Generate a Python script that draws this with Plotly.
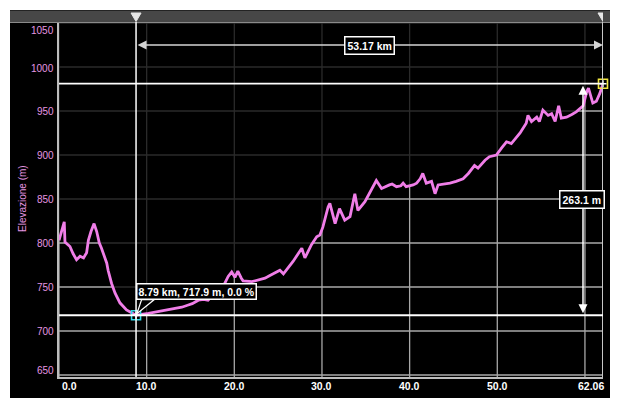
import plotly.graph_objects as go

# ---------------- data ----------------
dist_km = [0.0, 0.3, 0.6, 0.68, 1.0, 1.25, 1.6, 2.0, 2.4, 2.8, 3.15, 3.35, 3.65, 4.0, 4.3,
           4.6, 4.85, 5.2, 5.45, 5.6, 6.0, 6.4, 6.95, 7.7, 8.5, 8.79, 10.2, 11.7, 12.5, 13.2,
           14.0, 14.75, 15.2, 15.9, 16.5, 17.0, 17.4, 18.0, 18.55, 19.3, 19.7, 20.07, 20.4,
           20.8, 21.0, 22.0, 22.9, 23.5, 24.06,
           25.2, 25.6, 26.7, 27.7, 28.05, 28.8, 29.4, 29.76, 30.1, 30.7, 30.9, 31.5, 32.0,
           32.6, 33.2, 33.75, 34.1, 34.9, 35.65, 36.2, 36.8, 37.2, 37.7, 38.0, 38.5, 39.0,
           39.26, 39.6, 40.0, 40.4, 40.8,
           41.2, 41.5, 41.9, 42.5, 42.9, 43.25, 44.0, 44.6, 45.3, 46.1, 46.7, 47.4, 47.8,
           48.6, 49.1, 49.9, 50.5, 51.05, 51.6, 52.6, 53.3, 53.5, 53.9, 54.5, 54.8, 55.2,
           55.8, 56.2, 56.6, 57.0, 57.3, 57.9, 58.5, 59.0, 59.8, 60.2, 60.4, 60.9, 61.3,
           61.7, 62.0, 62.06]
elev_m = [803, 815, 824, 801, 798, 796, 788, 781, 785, 783, 789, 803, 813, 822, 813,
          800, 794, 785, 777, 769, 754, 743, 732, 724, 719, 717.9, 720, 723, 724, 726,
          727, 729.5, 731, 735, 736, 735, 739, 741, 747, 762, 767, 761, 768,
          760, 757, 756, 758, 760, 763,
          769, 765, 779, 794, 783, 798, 807, 809, 818, 841, 845, 822, 839,
          826, 830, 856, 837, 847, 860, 871, 862, 864, 866, 867, 864, 865,
          868, 864, 865, 866, 868,
          873, 879, 868, 870, 856, 866, 867, 868, 870, 873, 879, 888, 885,
          894, 898, 900, 908, 915, 913, 925, 936, 945, 938, 943, 938, 951,
          945, 947, 938, 956, 942, 943, 946, 949, 956, 972, 976, 959, 961,
          970, 979, 981]

x_tick_vals = [0, 10, 20, 30, 40, 50, 60]
x_tick_text = ["0.0", "10.0", "20.0", "30.0", "40.0", "50.0", ""]
x_end_value = 62.06
x_end_text = "62.06"
y_tick_vals = [650, 700, 750, 800, 850, 900, 950, 1000, 1050]
y_tick_text = ["650", "700", "750", "800", "850", "900", "950", "1000", "1050"]

sel_start_km, sel_start_elev = 8.79, 717.9
sel_end_km, sel_end_elev = 62.06, 981.0
dist_label = "53.17 km"
climb_label = "263.1 m"
tooltip_label = "8.79 km, 717.9 m, 0.0 %"
y_title = "Elevazione (m)"
x_title = "Distanza (km)"

# ---------------- layout geometry ----------------
W, H = 620, 409
PL, PR, PT, PB = 59, 603, 23, 377
X0, X1 = 0.0, 62.06
Y0, Y1 = 647.7, 1050.0
kx = (PR - PL) / (X1 - X0)
ky = (PB - PT) / (Y1 - Y0)


def pxx(p):  # pixel x -> paper x
    return (p - PL) / (PR - PL)


def pxy(p):  # pixel y -> paper y
    return (PB - p) / (PB - PT)


PINK_LINE = "#f07ee8"
PINK_TEXT = "#e596e0"
GRID = "#a8a8a8"
FONT = "Liberation Sans, Arial, sans-serif"

fig = go.Figure()

# grid lines drawn as traces so the dimming layer can sit above them
for g in x_tick_vals:
    fig.add_trace(go.Scatter(x=[g, g], y=[Y0, Y1], mode="lines",
                             line=dict(color=GRID, width=1.3),
                             hoverinfo="skip", showlegend=False))
for g in y_tick_vals:
    fig.add_trace(go.Scatter(x=[X0, X1], y=[g, g], mode="lines",
                             line=dict(color=GRID, width=1.3),
                             hoverinfo="skip", showlegend=False))
# dimming of the grid above the profile
fig.add_trace(go.Scatter(x=dist_km + [dist_km[-1], dist_km[0]],
                         y=elev_m + [Y1, Y1], mode="lines", line=dict(width=0),
                         fill="toself", fillcolor="rgba(0,0,0,0.75)",
                         hoverinfo="skip", showlegend=False))
# profile
fig.add_trace(go.Scatter(x=dist_km, y=elev_m, mode="lines",
                         line=dict(color=PINK_LINE, width=2.8),
                         hoverinfo="skip", showlegend=False))

shapes = []
# white frame around the black panel
for (a, b, c, d) in [(-5, -5, 10, H + 5), (610, -5, W + 5, H + 5),
                     (-5, -5, W + 5, 10), (-5, 398, W + 5, H + 5)]:
    shapes.append(dict(type="rect", xref="paper", yref="paper", x0=pxx(a), x1=pxx(c),
                       y0=pxy(b), y1=pxy(d), fillcolor="white", line=dict(width=0),
                       layer="above"))
# top gray bar
shapes.append(dict(type="rect", xref="paper", yref="paper", x0=pxx(10), x1=pxx(610),
                   y0=pxy(22), y1=pxy(10.5), fillcolor="#474747", line=dict(width=0),
                   layer="above"))
shapes.append(dict(type="line", xref="paper", yref="paper", x0=pxx(10), x1=pxx(610),
                   y0=pxy(22.5), y1=pxy(22.5), line=dict(color="#8a8a8a", width=1.2),
                   layer="above"))
# selection lines
shapes.append(dict(type="line", xref="x", yref="paper", x0=sel_start_km, x1=sel_start_km,
                   y0=0, y1=pxy(22), line=dict(color="white", width=1.5), layer="above"))
shapes.append(dict(type="line", xref="x", yref="paper", x0=sel_end_km, x1=sel_end_km,
                   y0=0, y1=pxy(22), line=dict(color="#c8c8c8", width=2), layer="above"))
shapes.append(dict(type="line", xref="x", yref="y", x0=X0, x1=X1,
                   y0=sel_start_elev, y1=sel_start_elev, line=dict(color="white", width=1.8),
                   layer="above"))
shapes.append(dict(type="line", xref="x", yref="y", x0=X0, x1=X1,
                   y0=sel_end_elev, y1=sel_end_elev, line=dict(color="white", width=1.8),
                   layer="above"))
# triangles in top bar
for xv in (sel_start_km, sel_end_km):
    hw = 5 / kx
    path = (f"M {xv - hw},{pxy(13)} L {xv + hw},{pxy(13)} L {xv},{pxy(21.5)} Z")
    shapes.append(dict(type="path", xref="x", yref="paper", path=path,
                       fillcolor="#e6e6e6", line=dict(color="#e6e6e6", width=1),
                       layer="above"))
# tooltip tail
tx = lambda dpx: sel_start_km + dpx / kx
ty = lambda dpy: sel_start_elev - dpy / ky
tail = (f"M {tx(5.5)},{ty(-15.5)} L {tx(0.8)},{ty(-1.5)} L {tx(18)},{ty(-15.5)} Z")
shapes.append(dict(type="path", xref="x", yref="y", path=tail, fillcolor="black",
                   line=dict(color="white", width=1.2), layer="above"))

# markers at selection ends
fig.add_trace(go.Scatter(x=[sel_start_km], y=[sel_start_elev], mode="markers",
                         marker=dict(symbol="square-open", size=9, color="#35d6e6",
                                     line=dict(color="#35d6e6", width=1.6)),
                         cliponaxis=False, hoverinfo="skip", showlegend=False))
fig.add_trace(go.Scatter(x=[sel_end_km], y=[sel_end_elev], mode="markers",
                         marker=dict(symbol="square-open", size=9, color="#f2e640",
                                     line=dict(color="#f2e640", width=1.6)),
                         cliponaxis=False, hoverinfo="skip", showlegend=False))
fig.add_trace(go.Scatter(x=[sel_start_km, sel_end_km], y=[sel_start_elev, sel_end_elev],
                         mode="markers",
                         marker=dict(symbol="cross-thin-open", size=5, color="white",
                                     line=dict(color="white", width=1.4)),
                         cliponaxis=False, hoverinfo="skip", showlegend=False))

annotations = []
# x tick labels
for v, t in zip(x_tick_vals, x_tick_text):
    if not t:
        continue
    annotations.append(dict(x=v, y=pxy(386), xref="x", yref="paper", text=t,
                            showarrow=False, xanchor="left" if v == X0 else "center",
                            xshift=1 if v == X0 else 0, yanchor="middle",
                            font=dict(family=FONT, size=10.5, color="white", weight="bold")))
annotations.append(dict(x=x_end_value, y=pxy(386), xref="x", yref="paper", text=x_end_text,
                        showarrow=False, xanchor="right", xshift=3, yanchor="middle",
                        font=dict(family=FONT, size=10.5, color="white", weight="bold")))
# y tick labels
for v, t in zip(y_tick_vals, y_tick_text):
    shift = -1
    if v == 1050:
        shift = -7
    elif v == 650:
        shift = 4
    annotations.append(dict(x=pxx(56), y=v, xref="paper", yref="y", text=t,
                            showarrow=False, xanchor="right", yanchor="middle", yshift=shift,
                            font=dict(family=FONT, size=10, color=PINK_TEXT)))
# axis titles
annotations.append(dict(x=pxx(22), y=pxy(199), xref="paper", yref="paper", text=y_title,
                        showarrow=False, textangle=-90, xanchor="center", yanchor="middle",
                        font=dict(family=FONT, size=10, color=PINK_TEXT)))
# x title: only its top shows above the panel's lower edge, as in the original
annotations.append(dict(x=pxx(340), y=pxy(393.5), xref="paper", yref="paper", text=x_title,
                        showarrow=False, xanchor="center", yanchor="top",
                        font=dict(family=FONT, size=12, color="white", weight="bold")))
# distance arrow
arrow_y = 1000 + (67 - 45) / ky
annotations.append(dict(x=sel_end_km, y=arrow_y, ax=sel_start_km, ay=arrow_y,
                        xref="x", yref="y", axref="x", ayref="y", text="",
                        showarrow=True, arrowside="end+start", arrowhead=2, arrowsize=1.2,
                        arrowwidth=1.5, arrowcolor="#d4d4d4", standoff=0, startstandoff=0))
annotations.append(dict(x=(sel_start_km + sel_end_km) / 2, y=arrow_y, xref="x", yref="y",
                        text=dist_label, showarrow=False, bgcolor="black",
                        bordercolor="white", borderwidth=1.5, borderpad=2,
                        font=dict(family=FONT, size=10.5, color="white", weight="bold")))
# climb arrow
arrow_x = sel_end_km - 20 / kx
annotations.append(dict(x=arrow_x, y=sel_end_elev - 2 / ky, ax=arrow_x,
                        ay=sel_start_elev + 0.5 / ky,
                        xref="x", yref="y", axref="x", ayref="y", text="",
                        showarrow=True, arrowside="end+start", arrowhead=2, arrowsize=1.2,
                        arrowwidth=1.5, arrowcolor="white", standoff=0, startstandoff=0))
annotations.append(dict(x=arrow_x - 1 / kx, y=(sel_start_elev + sel_end_elev) / 2,
                        xref="x", yref="y", text=climb_label, showarrow=False,
                        bgcolor="black", bordercolor="white", borderwidth=1.5, borderpad=2,
                        font=dict(family=FONT, size=10.5, color="white", weight="bold")))
# tooltip
annotations.append(dict(x=sel_start_km, y=sel_start_elev, xref="x", yref="y",
                        text=tooltip_label, showarrow=False, xanchor="left",
                        yanchor="bottom", xshift=-0.5, yshift=15.5, bgcolor="black",
                        bordercolor="white", borderwidth=1.5, borderpad=1,
                        font=dict(family=FONT, size=10.5, color="white", weight="bold")))

fig.update_layout(
    width=W, height=H,
    margin=dict(l=PL, r=W - PR, t=PT, b=H - PB, pad=0),
    paper_bgcolor="black", plot_bgcolor="black",
    showlegend=False,
    xaxis=dict(range=[X0, X1], showticklabels=False, showgrid=False, zeroline=False,
               showline=True, linecolor="#bdbdbd", linewidth=2, ticks="", fixedrange=True),
    yaxis=dict(range=[Y0, Y1], showticklabels=False, showgrid=False, zeroline=False,
               showline=True, linecolor="#bdbdbd", linewidth=2, ticks="", fixedrange=True),
    shapes=shapes,
    annotations=annotations,
)

fig.write_html("out.html", config={"displayModeBar": False},
               post_script="document.body.style.margin='0';"
                           "document.body.style.overflow='hidden';")
